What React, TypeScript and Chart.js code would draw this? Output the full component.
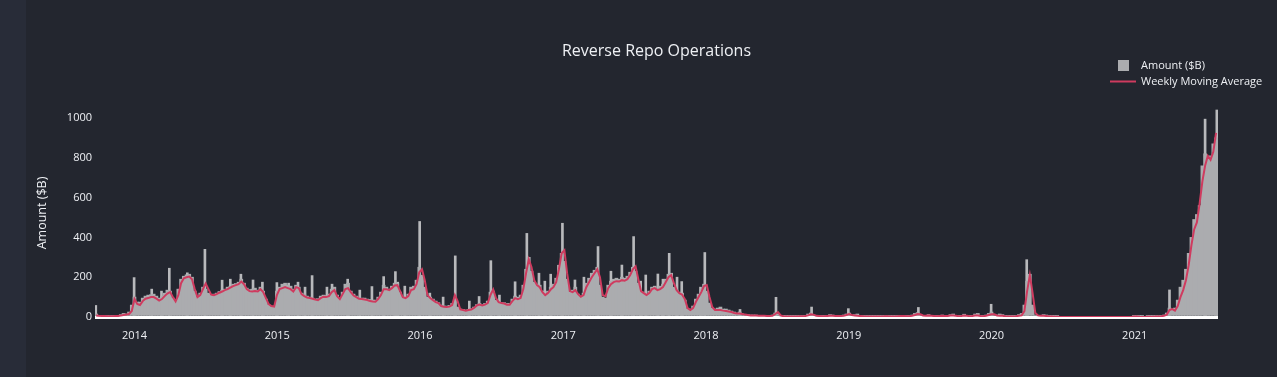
import React, { useEffect, useRef } from "react";
import { Chart, registerables } from "chart.js";

Chart.register(...registerables);

const TITLE = "Reverse Repo Operations";
const Y_TITLE = "Amount ($B)";
const SERIES_AMOUNT = "Amount ($B)";
const SERIES_MA = "Weekly Moving Average";

const FIRST_WEEK = "2013-09-25";
const AXIS_START = "2013-09-22";
const AXIS_END = "2021-08-02";
const YEAR_TICKS = [2014, 2015, 2016, 2017, 2018, 2019, 2020, 2021];
const Y_TICKS = [0, 200, 400, 600, 800, 1000];
const Y_MAX = 1045;

// weekly amounts ($B)
const AMOUNT_2013 = [15, 5, 8, 6, 5, 8, 5, 6, 8, 12, 18, 15, 25, 60, 100];
const AMOUNT_2014 = [75, 75, 95, 105, 110, 112, 115, 105, 95, 105, 120, 135, 130, 95, 85, 140, 190, 205, 212, 215, 200, 130, 100, 120, 150, 140, 120, 110, 115, 120, 128, 135, 140, 150, 155, 165, 168, 175, 190, 170, 145, 138, 140, 145, 135, 150, 130, 90, 60, 52, 55, 130];
const AMOUNT_2015 = [150, 165, 170, 160, 155, 140, 160, 150, 120, 115, 105, 100, 95, 90, 92, 105, 110, 108, 115, 140, 150, 110, 95, 125, 165, 170, 130, 115, 105, 100, 95, 95, 90, 88, 85, 85, 100, 125, 160, 150, 140, 155, 170, 168, 125, 100, 100, 115, 150, 155, 185, 250];
const AMOUNT_2016 = [210, 150, 100, 100, 90, 80, 72, 60, 55, 55, 58, 68, 95, 50, 40, 38, 35, 38, 42, 50, 62, 68, 62, 68, 80, 125, 130, 85, 75, 72, 72, 68, 68, 90, 105, 100, 110, 160, 240, 300, 230, 175, 165, 160, 130, 115, 130, 150, 165, 195, 260, 320];
const AMOUNT_2017 = [280, 190, 125, 135, 150, 115, 105, 120, 170, 195, 220, 235, 250, 160, 100, 95, 160, 180, 190, 195, 190, 200, 195, 205, 225, 250, 230, 170, 125, 125, 115, 130, 150, 155, 145, 155, 165, 190, 215, 220, 150, 135, 125, 120, 85, 40, 40, 55, 90, 115, 140, 165];
const AMOUNT_2018 = [130, 70, 45, 40, 45, 50, 40, 40, 35, 30, 25, 20, 25, 15, 12, 12, 10, 10, 10, 8, 8, 8, 6, 8, 10, 20, 15, 5, 4, 3, 4, 3, 3, 4, 5, 5, 8, 15, 20, 10, 6, 5, 4, 5, 8, 12, 10, 6, 8, 6, 10, 15, 20];
const AMOUNT_2019 = [8, 12, 15, 5, 4, 3, 4, 3, 3, 2, 4, 5, 6, 4, 3, 4, 3, 6, 8, 8, 5, 6, 10, 18, 22, 12, 6, 8, 12, 8, 5, 5, 8, 10, 6, 6, 12, 15, 6, 4, 8, 14, 8, 5, 8, 15, 18, 6, 5, 10, 18, 25];
const AMOUNT_2020 = [8, 10, 15, 12, 4, 3, 5, 4, 8, 12, 18, 60, 180, 215, 60, 10, 6, 8, 12, 10, 4, 2, 1, 1, 0, 0, 0, 0, 0, 0, 0, 0, 0, 0, 0, 0, 0, 0, 0, 0, 0, 0, 0, 0, 0, 0, 0, 0, 0, 0, 0, 5];
const AMOUNT_2021 = [6, 2, 1, 0, 2, 1, 2, 4, 8, 6, 10, 20, 45, 40, 45, 85, 150, 185, 240, 320, 400, 490, 515, 560, 760, 820, 800, 810, 870, 900];

// weekly moving average ($B)
const MA_2013 = [8, 6, 5, 5, 4, 4, 4, 5, 5, 7, 10, 12, 15, 30, 90];
const MA_2014 = [65, 60, 80, 92, 95, 100, 100, 92, 82, 90, 105, 118, 125, 100, 78, 110, 170, 195, 200, 203, 190, 140, 100, 110, 140, 168, 140, 112, 110, 115, 122, 128, 135, 140, 148, 155, 160, 165, 178, 165, 140, 130, 128, 130, 128, 140, 125, 95, 65, 55, 52, 110];
const MA_2015 = [140, 145, 150, 145, 140, 128, 150, 145, 115, 105, 98, 95, 92, 88, 85, 95, 102, 100, 105, 125, 135, 105, 90, 115, 140, 145, 125, 108, 100, 92, 90, 88, 85, 80, 78, 77, 90, 110, 140, 140, 135, 145, 158, 160, 130, 100, 95, 105, 135, 140, 165, 225];
const MA_2016 = [240, 185, 110, 95, 85, 75, 70, 55, 52, 50, 52, 60, 110, 80, 38, 35, 32, 35, 38, 45, 58, 62, 58, 62, 70, 110, 138, 95, 75, 70, 68, 62, 62, 80, 95, 90, 95, 140, 220, 290, 250, 185, 160, 150, 125, 110, 120, 138, 150, 175, 240, 320];
const MA_2017 = [335, 220, 130, 125, 135, 115, 102, 110, 150, 175, 200, 220, 240, 200, 110, 105, 145, 165, 175, 180, 178, 185, 182, 190, 210, 240, 255, 190, 130, 120, 110, 120, 140, 145, 135, 140, 150, 175, 200, 210, 170, 135, 120, 112, 90, 45, 35, 45, 75, 100, 125, 155];
const MA_2018 = [160, 100, 50, 35, 35, 35, 32, 30, 28, 25, 20, 18, 18, 15, 12, 10, 8, 8, 8, 6, 6, 6, 5, 5, 6, 15, 25, 8, 4, 3, 3, 3, 3, 3, 4, 4, 5, 8, 14, 12, 6, 5, 4, 4, 5, 6, 6, 5, 5, 5, 6, 10, 15];
const MA_2019 = [10, 8, 6, 5, 4, 3, 3, 3, 2, 2, 3, 3, 4, 4, 3, 3, 3, 4, 5, 5, 4, 4, 6, 10, 15, 14, 8, 6, 7, 6, 5, 4, 5, 6, 5, 5, 7, 8, 6, 4, 5, 7, 6, 4, 5, 7, 7, 5, 4, 6, 10, 14];
const MA_2020 = [14, 8, 6, 6, 4, 3, 3, 3, 4, 6, 8, 30, 130, 210, 120, 20, 8, 6, 6, 5, 3, 2, 1, 1, 0, 0, 0, 0, 0, 0, 0, 0, 0, 0, 0, 0, 0, 0, 0, 0, 0, 0, 0, 0, 0, 0, 0, 0, 0, 0, 0, 2];
const MA_2021 = [3, 1, 0, 0, 1, 1, 1, 2, 3, 4, 6, 12, 35, 40, 32, 55, 100, 135, 185, 260, 360, 440, 475, 570, 680, 760, 810, 790, 830, 925];

// single-day spikes ($B)
const SPIKE_DATES = ["2013-09-24", "2013-12-31", "2014-02-14", "2014-03-11", "2014-03-31", "2014-05-16", "2014-06-30", "2014-08-13", "2014-09-03", "2014-09-30", "2014-10-31", "2014-11-24", "2014-12-31", "2015-01-30", "2015-02-23", "2015-03-13", "2015-03-31", "2015-05-08", "2015-05-21", "2015-06-30", "2015-07-31", "2015-08-31", "2015-09-30", "2015-10-30", "2015-11-05", "2015-11-23", "2015-12-31", "2016-01-26", "2016-02-29", "2016-03-31", "2016-05-06", "2016-05-31", "2016-06-30", "2016-07-22", "2016-08-31", "2016-09-30", "2016-10-31", "2016-11-15", "2016-11-30", "2016-12-30", "2017-01-31", "2017-02-23", "2017-03-31", "2017-05-03", "2017-05-31", "2017-06-30", "2017-07-18", "2017-07-31", "2017-08-31", "2017-09-13", "2017-09-29", "2017-10-19", "2017-10-31", "2017-12-18", "2017-12-29", "2018-03-29", "2018-06-29", "2018-09-28", "2018-12-31", "2019-06-28", "2019-12-31", "2020-03-31", "2021-03-31", "2021-06-30", "2021-07-30"];
const SPIKE_VALUES = [58, 198, 140, 130, 245, 222, 340, 185, 190, 215, 186, 175, 173, 170, 175, 150, 208, 150, 165, 190, 135, 153, 203, 228, 175, 155, 480, 120, 100, 307, 80, 103, 283, 110, 177, 420, 220, 180, 215, 471, 186, 200, 354, 230, 261, 404, 180, 211, 216, 190, 320, 200, 178, 150, 324, 38, 99, 50, 42, 48, 64, 288, 136, 994, 1040];

const AMOUNT = [...AMOUNT_2013, ...AMOUNT_2014, ...AMOUNT_2015, ...AMOUNT_2016, ...AMOUNT_2017, ...AMOUNT_2018, ...AMOUNT_2019, ...AMOUNT_2020, ...AMOUNT_2021];
const MA = [...MA_2013, ...MA_2014, ...MA_2015, ...MA_2016, ...MA_2017, ...MA_2018, ...MA_2019, ...MA_2020, ...MA_2021];

const BG = "#23262f";
const SIDE_BG = "#282c38";
const TEXT = "#eef0f4";
const BAR = "#abacaf";
const SPIKE = "#b8b9bc";
const MA_COLOR = "#cf3b5f";
const FONT = "'Open Sans', sans-serif";

const DAY = 86400000;
const toMs = (s: string) => Date.parse(s + "T00:00:00Z");
const weekX = (i: number) => toMs(FIRST_WEEK) + i * 7 * DAY;

const chromePlugin = {
  id: "chrome",
  beforeDraw(chart: any) {
    const { ctx, width, height } = chart;
    ctx.save();
    ctx.fillStyle = BG;
    ctx.fillRect(0, 0, width, height);
    ctx.fillStyle = SIDE_BG;
    ctx.fillRect(0, 0, 26, height);
    ctx.restore();
  },
  afterDraw(chart: any) {
    const { ctx, chartArea } = chart;
    ctx.save();
    ctx.fillStyle = TEXT;
    ctx.font = `16px ${FONT}`;
    ctx.textAlign = "center";
    ctx.textBaseline = "middle";
    ctx.fillText(TITLE, (chartArea.left + chartArea.right) / 2, 51);

    const lx = chartArea.right - 100;
    ctx.fillStyle = BAR;
    ctx.fillRect(lx, 60, 11, 11);
    ctx.strokeStyle = MA_COLOR;
    ctx.lineWidth = 2;
    ctx.beginPath();
    ctx.moveTo(lx - 8, 81.5);
    ctx.lineTo(lx + 18, 81.5);
    ctx.stroke();
    ctx.fillStyle = TEXT;
    ctx.font = `11px ${FONT}`;
    ctx.textAlign = "left";
    ctx.fillText(SERIES_AMOUNT, lx + 23, 66);
    ctx.fillText(SERIES_MA, lx + 23, 82);
    ctx.restore();
  },
};

export default function App() {
  const ref = useRef<HTMLCanvasElement>(null);
  useEffect(() => {
    const chart = new Chart(ref.current as HTMLCanvasElement, {
      type: "bar",
      data: {
        datasets: [
          {
            type: "line",
            label: SERIES_MA,
            data: MA.map((v, i) => ({ x: weekX(i), y: v })),
            borderColor: MA_COLOR,
            borderWidth: 2,
            pointRadius: 0,
            tension: 0,
            fill: false,
            order: 0,
          } as any,
          {
            type: "bar",
            label: SERIES_AMOUNT,
            data: AMOUNT.map((v, i) => ({ x: weekX(i), y: v })),
            backgroundColor: BAR,
            borderWidth: 0,
            barThickness: 3,
            grouped: false,
            order: 1,
          } as any,
          {
            type: "bar",
            label: SERIES_AMOUNT + " daily",
            data: SPIKE_DATES.map((d, i) => ({ x: toMs(d), y: SPIKE_VALUES[i] })),
            backgroundColor: SPIKE,
            borderWidth: 0,
            barThickness: 2,
            grouped: false,
            order: 2,
          } as any,
        ],
      },
      options: {
        responsive: false,
        animation: false,
        events: [],
        layout: { padding: { top: 109, right: 59, bottom: 0, left: 0 } },
        plugins: {
          legend: { display: false },
          title: { display: false },
          tooltip: { enabled: false },
        },
        scales: {
          x: {
            type: "linear",
            min: toMs(AXIS_START),
            max: toMs(AXIS_END),
            offset: false,
            bounds: "data",
            grid: { display: false, drawTicks: false },
            border: { display: false },
            ticks: {
              color: TEXT,
              font: { family: FONT, size: 11 },
              padding: 12,
              maxRotation: 0,
              autoSkip: false,
              callback: (v: any) => String(new Date(Number(v)).getUTCFullYear()),
            },
            afterBuildTicks: (s: any) => {
              s.ticks = YEAR_TICKS.map((y) => ({ value: Date.UTC(y, 0, 1) }));
            },
            afterFit: (s: any) => {
              s.height = 60;
            },
          },
          y: {
            type: "linear",
            min: 0,
            max: Y_MAX,
            grid: {
              drawTicks: false,
              lineWidth: 3,
              color: (c: any) => (c.tick && c.tick.value === 0 ? "#ffffff" : "rgba(0,0,0,0)"),
            },
            border: { display: false },
            ticks: {
              color: TEXT,
              font: { family: FONT, size: 11 },
              padding: 3,
              callback: (v: any) => String(v),
            },
            afterBuildTicks: (s: any) => {
              s.ticks = Y_TICKS.map((v) => ({ value: v }));
            },
            afterFit: (s: any) => {
              s.width = 95;
            },
            title: {
              display: true,
              text: Y_TITLE,
              color: TEXT,
              font: { family: FONT, size: 12.5 },
              padding: { top: 35, bottom: 0 },
            },
          },
        },
      } as any,
      plugins: [chromePlugin],
    });
    return () => chart.destroy();
  }, []);

  return (
    <div style={{ position: "absolute", left: 0, top: 0, width: 1277, height: 377, background: BG }}>
      <canvas ref={ref} width={1277} height={377} style={{ display: "block" }} />
    </div>
  );
}
